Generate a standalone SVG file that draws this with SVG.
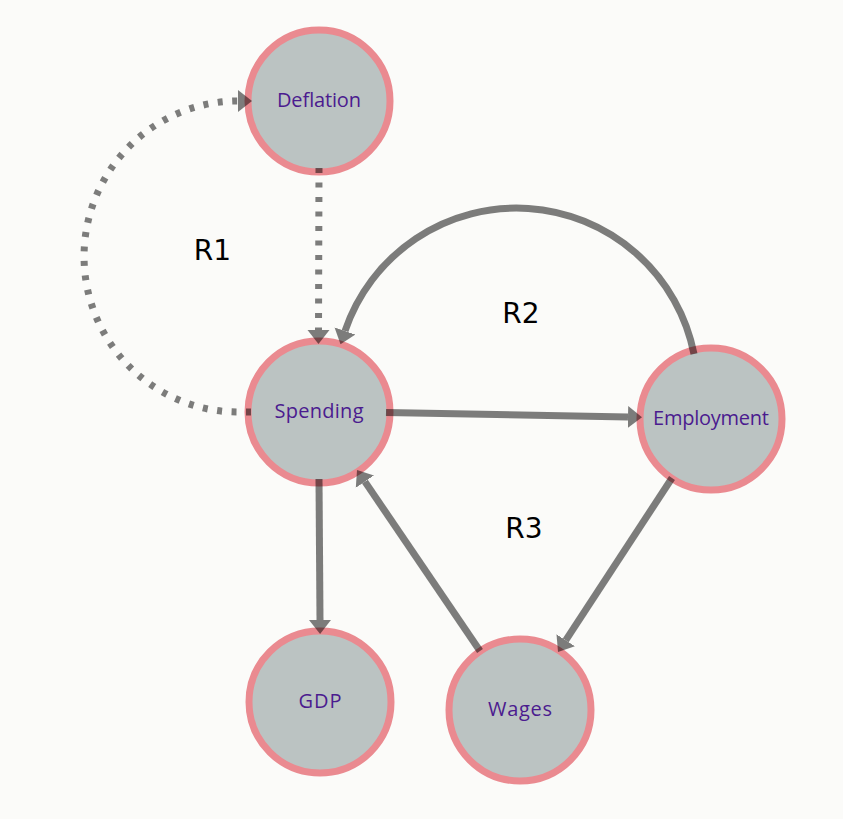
<svg xmlns="http://www.w3.org/2000/svg" width="843" height="819" viewBox="0 0 843 819">
  <style>
    .node circle { fill: #BBC3C2; stroke: #EA8A90; stroke-width: 7; }
    .node text { font-family: "Open Sans", "Noto Sans", sans-serif; font-size: 20px; fill: #4B1B8F; text-anchor: middle; }
    .edge { fill: none; stroke: #000; stroke-width: 7; stroke-linecap: butt; marker-end: url(#arrow); }
    .dotted { stroke-dasharray: 5 9.5; }
    .loop { font-family: "DejaVu Sans", sans-serif; font-size: 28px; fill: #000; text-anchor: middle; }
  </style>
  <defs>
    <marker id="arrow" markerUnits="userSpaceOnUse" markerWidth="16" markerHeight="24" viewBox="0 -12 16 24" refX="0" refY="0" orient="auto">
      <path d="M0,-11 L14,0 L0,11 Z" fill="#000"/>
    </marker>
  </defs>
  <rect width="843" height="819" fill="#FBFBF9"/>

  <g id="node-deflation" class="node">
    <circle cx="319" cy="101" r="71"/>
    <text x="319" y="107" textLength="84" lengthAdjust="spacing">Deflation</text>
  </g>
  <g id="node-spending" class="node">
    <circle cx="319" cy="412" r="71"/>
    <text x="319" y="418" textLength="89" lengthAdjust="spacing">Spending</text>
  </g>
  <g id="node-employment" class="node">
    <circle cx="711" cy="419" r="71"/>
    <text x="711" y="425" textLength="116" lengthAdjust="spacing">Employment</text>
  </g>
  <g id="node-gdp" class="node">
    <circle cx="320" cy="702" r="71"/>
    <text x="320" y="708" textLength="43" lengthAdjust="spacing">GDP</text>
  </g>
  <g id="node-wages" class="node">
    <circle cx="520" cy="710" r="71"/>
    <text x="520" y="716" textLength="64" lengthAdjust="spacing">Wages</text>
  </g>

  <g id="connectors" opacity="0.5">
    <path class="edge dotted" d="M319,168 L318.5,330"/>
    <path class="edge dotted" d="M251,412 L238,412 A154 155.5 0 0 1 238,101"/>
    <path class="edge" d="M694,354 A181 181 0 0 0 345,331"/>
    <path class="edge" d="M386,412.5 L628,417"/>
    <path class="edge" d="M319,479 L320,620"/>
    <path class="edge" d="M672,478 L565.7,640.3"/>
    <path class="edge" d="M480,651 L364.9,481.6"/>
  </g>

  <g id="loop-labels">
    <text class="loop" x="212.5" y="260">R1</text>
    <text class="loop" x="521" y="323">R2</text>
    <text class="loop" x="524" y="538">R3</text>
  </g>
</svg>
